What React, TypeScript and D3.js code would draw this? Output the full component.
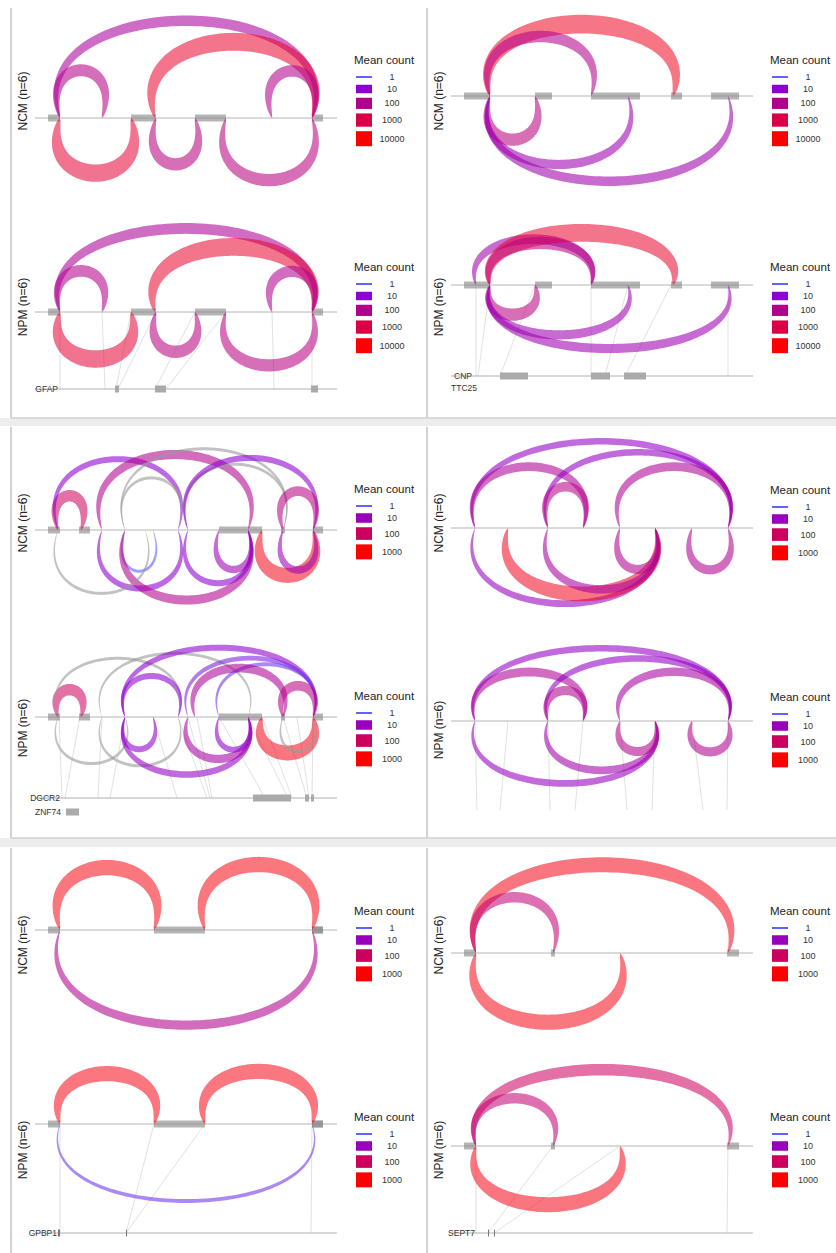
import React, { useEffect, useRef } from "react";
import * as d3 from "d3";

// junctions: [start, end, side (1 = above, -1 = below), mean count]
// positions are in compressed track units (0..302), count 0 = grey (not detected)

// GFAP
const gfapExons = [[13, 25], [96, 121], [160, 191], [277, 288]];
const gfapNCM = [
  [25, 67, 1, 120], [25, 277, 1, 60], [120, 277, 1, 2500], [237, 277, 1, 100],
  [25, 96, -1, 2000], [121, 160, -1, 150], [191, 277, -1, 150],
];
const gfapNPM = [
  [25, 67, 1, 110], [25, 277, 1, 70], [120, 277, 1, 2500], [237, 277, 1, 90],
  [25, 96, -1, 2000], [121, 160, -1, 150], [191, 277, -1, 140],
];
const gfapGene = [[80, 84], [120, 131], [276, 283]];
const gfapLinks = [[25, 25], [67, 70], [96, 81], [121, 83], [160, 120], [191, 131], [237, 239], [277, 277]];

// CNP / TTC25
const cnpExons = [[13, 39], [84, 101], [140, 189], [220, 231], [260, 288]];
const cnpNCM = [
  [39, 222, 1, 4000], [39, 140, 1, 100],
  [39, 84, -1, 150], [39, 177, -1, 30], [39, 277, -1, 35],
];
const cnpNPM = [
  [25, 140, 1, 40], [39, 222, 1, 2500], [39, 140, 1, 150],
  [39, 84, -1, 150], [39, 177, -1, 30], [39, 277, -1, 30],
];
const cnpGene = [[49, 77], [140, 159], [173, 195]];
const cnpLinks = [[25, 25], [39, 27], [84, 49], [140, 140], [177, 154], [220, 174], [277, 277]];

// DGCR2 / ZNF74
const dgcrExons = [[13, 25], [44, 55], [184, 227], [246, 250], [278, 288]];
const dgcrNCM = [
  [23, 46, 1, 100], [23, 143, 1, 6], [67, 213, 1, 30], [90, 143, 1, 0], [90, 248, 1, 0],
  [153, 248, 1, 0], [153, 278, 1, 6], [248, 278, 1, 40],
  [67, 143, -1, 6], [90, 118, -1, 1], [90, 213, -1, 30], [23, 110, -1, 0],
  [153, 213, -1, 6], [184, 213, -1, 12], [227, 278, -1, 600], [248, 278, -1, 12],
];
const dgcrNPM = [
  [23, 46, 1, 100], [23, 143, 1, 0], [67, 213, 1, 0], [90, 278, 1, 6], [90, 143, 1, 6],
  [153, 278, 1, 3], [184, 278, 1, 2], [160, 248, 1, 25], [248, 278, 1, 40],
  [23, 90, -1, 0], [67, 143, -1, 0], [90, 118, -1, 6], [90, 213, -1, 8],
  [153, 213, -1, 20], [184, 213, -1, 6], [227, 278, -1, 600], [248, 278, -1, 0],
];
const dgcrGene = [[218, 256], [270, 274], [276, 279]];
const znfGene = [[31, 44]];
const dgcrLinks = [
  [24, 27], [45, 30], [67, 63], [90, 75], [118, 142], [143, 172], [153, 175], [162, 177],
  [184, 230], [213, 253], [227, 257], [248, 272], [262, 274], [278, 277],
];

// unnamed gene (no annotation shown)
const p4Exons: number[][] = [];
const p4NCM = [
  [24, 277, 1, 8], [24, 132, 1, 25], [97, 277, 1, 8], [97, 132, 1, 35], [169, 277, 1, 25],
  [24, 204, -1, 9], [57, 204, -1, 550], [97, 204, -1, 20], [169, 204, -1, 30], [241, 277, -1, 30],
];
const p4NPM = [
  [24, 277, 1, 8], [24, 132, 1, 25], [97, 277, 1, 8], [97, 132, 1, 30], [169, 277, 1, 20],
  [24, 204, -1, 9], [97, 204, -1, 15], [169, 204, -1, 30], [241, 277, -1, 30],
];
const p4Links = [[24, 26], [57, 49], [97, 99], [132, 124], [169, 176], [204, 201], [241, 252], [277, 276]];

// GPBP1
const gpbpExons = [[13, 25], [119, 170], [277, 288], [277, 288]];
const gpbpNCM = [[25, 119, 1, 700], [170, 277, 1, 700], [25, 277, -1, 30]];
const gpbpNPM = [[25, 119, 1, 650], [170, 277, 1, 650], [25, 277, -1, 2]];
const gpbpGene = [[23, 25], [91, 91.6]];
const gpbpLinks = [[25, 25], [119, 91], [170, 91], [277, 276]];

// SEPT7
const septExons = [[13, 25], [100, 104], [276, 288]];
const septNCM = [[25, 277, 1, 600], [25, 102, 1, 60], [25, 169, -1, 650]];
const septNPM = [[25, 277, 1, 100], [25, 102, 1, 60], [25, 169, -1, 600]];
const septGene = [[37, 37.6], [43, 43.6]];
const septLinks = [[25, 25], [102, 37], [169, 43], [277, 276]];

const levels5 = [1, 10, 100, 1000, 10000];
const levels4 = [1, 10, 100, 1000];

// panel layout: column offset, axis rows, arc height model [base, slope * sqrt(span)]
const panels = [
  { offX: 0, rowTop: 8, rowBottom: 418, exons: gfapExons, ncm: gfapNCM, npm: gfapNPM, levels: levels5,
    ncmY: 118, npmY: 312, geneY: 389, ncmH: [20, 5.2], npmH: [18, 4.47],
    ncmLab: 101, npmLab: 307, ncmLeg: 60, npmLeg: 267,
    genes: [{ name: "GFAP", exons: gfapGene, y: 389, line: true, labelEnd: 58 }], links: gfapLinks },
  { offX: 416, rowTop: 8, rowBottom: 418, exons: cnpExons, ncm: cnpNCM, npm: cnpNPM, levels: levels5,
    ncmY: 96, npmY: 285, geneY: 376, ncmH: [19, 4.6], npmH: [11, 3.7],
    ncmLab: 101, npmLab: 307, ncmLeg: 60, npmLeg: 267,
    genes: [{ name: "CNP", exons: cnpGene, y: 376, line: true, labelEnd: 472 },
            { name: "TTC25", exons: [], y: 388, line: false, labelEnd: 477 }], links: cnpLinks },
  { offX: 0, rowTop: 427, rowBottom: 838, exons: dgcrExons, ncm: dgcrNCM, npm: dgcrNPM, levels: levels4,
    ncmY: 530, npmY: 717, geneY: 798, ncmH: [13.6, 5.5], npmH: [12, 4.4],
    ncmLab: 523, npmLab: 728, ncmLeg: 489, npmLeg: 696,
    genes: [{ name: "DGCR2", exons: dgcrGene, y: 798, line: true, labelEnd: 60 },
            { name: "ZNF74", exons: znfGene, y: 812, line: false, labelEnd: 61 }], links: dgcrLinks },
  { offX: 416, rowTop: 427, rowBottom: 838, exons: p4Exons, ncm: p4NCM, npm: p4NPM, levels: levels4,
    ncmY: 528, npmY: 721, geneY: 810, ncmH: [20, 4.4], npmH: [10.8, 4.1],
    ncmLab: 523, npmLab: 730, ncmLeg: 490, npmLeg: 697,
    genes: [], links: p4Links },
  { offX: 0, rowTop: 848, rowBottom: 1253, exons: gpbpExons, ncm: gpbpNCM, npm: gpbpNPM, levels: levels4,
    ncmY: 930, npmY: 1124, geneY: 1233, ncmH: [23.5, 4.8], npmH: [25, 3.4],
    ncmLab: 945, npmLab: 1150, ncmLeg: 911, npmLeg: 1117,
    genes: [{ name: "GPBP1", exons: gpbpGene, y: 1233, line: true, labelEnd: 57 }], links: gpbpLinks },
  { offX: 416, rowTop: 848, rowBottom: 1253, exons: septExons, ncm: septNCM, npm: septNPM, levels: levels4,
    ncmY: 953, npmY: 1146, geneY: 1233, ncmH: [18, 4.9], npmH: [17, 4.1],
    ncmLab: 945, npmLab: 1150, ncmLeg: 911, npmLeg: 1117,
    genes: [{ name: "SEPT7", exons: septGene, y: 1233, line: true, labelEnd: 475 }], links: septLinks },
];

const FONT = "Liberation Sans, Arial, Helvetica, sans-serif";
const colorT = d3.scaleLinear<string>().domain([0, 0.25, 1]).range(["#6262ff", "#8c00d2", "#ff0000"]).clamp(true);
const ribbonWidth = (c: number) => Math.max(3, 2.5 + 4.5 * Math.log10(c));

// horseshoe ribbon: cubic bezier centre line, width tapering to the ends
function ribbonPath(x1: number, x2: number, y0: number, dir: number, h: number, w: number) {
  const hc = Math.max(h - w / 2, 4);
  const c = hc / 0.75, k = 0.45 * hc;
  const p = [[x1, y0], [x1 - k, y0 - dir * c], [x2 + k, y0 - dir * c], [x2, y0]];
  const outer: [number, number][] = [], inner: [number, number][] = [];
  const N = 90;
  for (let i = 0; i <= N; i++) {
    const t = i / N, m = 1 - t;
    const bx = m * m * m * p[0][0] + 3 * m * m * t * p[1][0] + 3 * m * t * t * p[2][0] + t * t * t * p[3][0];
    const by = m * m * m * p[0][1] + 3 * m * m * t * p[1][1] + 3 * m * t * t * p[2][1] + t * t * t * p[3][1];
    const dx = 3 * m * m * (p[1][0] - p[0][0]) + 6 * m * t * (p[2][0] - p[1][0]) + 3 * t * t * (p[3][0] - p[2][0]);
    const dy = 3 * m * m * (p[1][1] - p[0][1]) + 6 * m * t * (p[2][1] - p[1][1]) + 3 * t * t * (p[3][1] - p[2][1]);
    const len = Math.hypot(dx, dy) || 1;
    const nx = -dy / len, ny = dx / len;
    const hw = (w / 2) * Math.pow(Math.sin(Math.PI * t), 0.55);
    outer.push([bx + nx * hw, by + ny * hw]);
    inner.push([bx - nx * hw, by - ny * hw]);
  }
  return d3.line()([...outer, ...inner.reverse()]) + "Z";
}

export default function App() {
  const ref = useRef<SVGSVGElement>(null);

  useEffect(() => {
    const svg = d3.select(ref.current);
    svg.selectAll("*").remove();

    // card frames
    const frame = svg.append("g");
    [[418, 426], [838, 847]].forEach(([a, b]) => {
      frame.append("rect").attr("x", 0).attr("y", a).attr("width", 836).attr("height", b - a).attr("fill", "#ededed");
      frame.append("line").attr("x1", 11).attr("x2", 836).attr("y1", a).attr("y2", a).attr("stroke", "#cfcfcf").attr("stroke-width", 1.5);
    });
    panels.forEach((p) => {
      frame.append("line").attr("x1", 11 + p.offX).attr("x2", 11 + p.offX)
        .attr("y1", p.rowTop).attr("y2", p.rowBottom).attr("stroke", "#d2d2d2").attr("stroke-width", 2);
    });

    panels.forEach((p) => {
      const g = svg.append("g");
      const x = d3.scaleLinear().domain([0, 302]).range([35 + p.offX, 337 + p.offX]);
      const maxLog = Math.log10(p.levels[p.levels.length - 1]);

      // links between compressed track and gene model
      g.append("g").selectAll("line").data(p.links).join("line")
        .attr("x1", (d) => x(d[0])).attr("y1", p.npmY)
        .attr("x2", (d) => x(d[1])).attr("y2", p.geneY)
        .attr("stroke", "#d4d4d4").attr("stroke-width", 0.7);

      // gene models
      p.genes.forEach((gn) => {
        if (gn.line) {
          g.append("line").attr("x1", x(0)).attr("x2", x(302)).attr("y1", gn.y).attr("y2", gn.y)
            .attr("stroke", "#b0b0b0").attr("stroke-width", 1);
        }
        g.append("g").selectAll("rect").data(gn.exons).join("rect")
          .attr("x", (d) => x(d[0])).attr("width", (d) => Math.max(1, x(d[1]) - x(d[0])))
          .attr("y", gn.y - 3.5).attr("height", 7)
          .attr("fill", (d) => (d[1] - d[0] < 3 ? "#777" : "#aaa"));
        g.append("text").attr("x", gn.labelEnd).attr("y", gn.y).attr("dy", "0.35em")
          .attr("text-anchor", "end").attr("font-family", FONT).attr("font-size", 8.5).attr("fill", "#333")
          .text(gn.name);
      });

      const tracks = [
        { name: "NCM (n=6)", y: p.ncmY, junc: p.ncm, hm: p.ncmH, lab: p.ncmLab, leg: p.ncmLeg },
        { name: "NPM (n=6)", y: p.npmY, junc: p.npm, hm: p.npmH, lab: p.npmLab, leg: p.npmLeg },
      ];

      tracks.forEach((tr) => {
        const tg = g.append("g");
        tg.append("line").attr("x1", x(0)).attr("x2", x(302)).attr("y1", tr.y).attr("y2", tr.y)
          .attr("stroke", "#b4b4b4").attr("stroke-width", 1);
        tg.append("g").selectAll("rect").data(p.exons).join("rect")
          .attr("x", (d) => x(d[0])).attr("width", (d) => x(d[1]) - x(d[0]))
          .attr("y", tr.y - 3.5).attr("height", 7).attr("fill", "#888").attr("opacity", 0.62);

        tg.append("g").selectAll("path").data(tr.junc).join("path")
          .attr("d", (d) => {
            const x1 = x(d[0]), x2 = x(d[1]);
            const h = tr.hm[0] + tr.hm[1] * Math.sqrt(x2 - x1);
            const w = d[3] > 0 ? ribbonWidth(d[3]) : 3;
            return ribbonPath(x1, x2, tr.y, d[2], h, w);
          })
          .attr("fill", (d) => (d[3] > 0 ? colorT(Math.log10(d[3]) / maxLog) : "#9a9a9a"))
          .attr("opacity", (d) => (d[3] > 0 ? 0.61 - 0.08 * Math.min(1, Math.log10(d[3]) / maxLog) : 0.6));

        // track label
        tg.append("text").attr("transform", `translate(${p.offX + 23},${tr.lab}) rotate(-90)`)
          .attr("text-anchor", "middle").attr("dy", "0.35em")
          .attr("font-family", FONT).attr("font-size", 12).attr("fill", "#222").text(tr.name);

        // legend
        const lx = 354 + p.offX;
        const lg = tg.append("g");
        lg.append("text").attr("x", lx).attr("y", tr.leg).attr("dy", "0.35em")
          .attr("font-family", FONT).attr("font-size", 11.5).attr("fill", "#222").text("Mean count");
        let cy = tr.leg + 17;
        let prevH = 0;
        p.levels.forEach((lv, i) => {
          const t = Math.log10(lv) / maxLog;
          const sh = i === 0 ? 2 : 2 + 13 * Math.sqrt(t);
          if (i > 0) cy += Math.max(12, (prevH + sh) / 2 + 4.5);
          lg.append("rect").attr("x", lx + 2).attr("y", cy - sh / 2).attr("width", 16).attr("height", sh)
            .attr("fill", colorT(t));
          lg.append("text").attr("x", lx + 38).attr("y", cy).attr("dy", "0.35em").attr("text-anchor", "middle")
            .attr("font-family", FONT).attr("font-size", 9).attr("fill", "#333").text(String(lv));
          prevH = sh;
        });
      });
    });
  }, []);

  return (
    <svg ref={ref} width={836} height={1253}
      style={{ position: "absolute", left: 0, top: 0, background: "#fff" }} />
  );
}
